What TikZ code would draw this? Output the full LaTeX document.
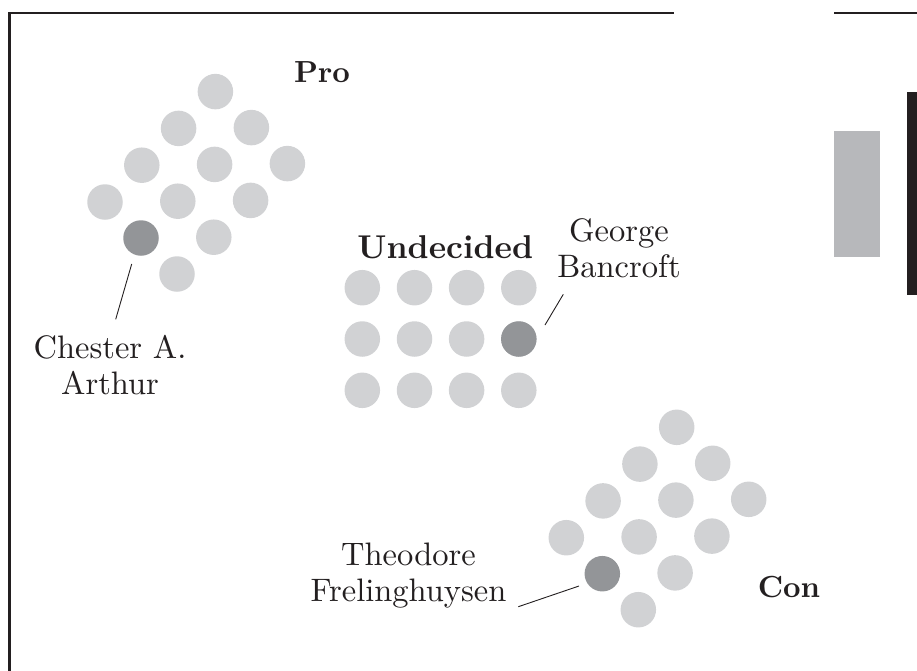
\documentclass[tikz,border=0pt]{standalone}
\usepackage{fontspec}
\setmainfont{lmroman10}[Extension=.otf, UprightFont=*-regular, BoldFont=*-bold, ItalicFont=*-italic, BoldItalicFont=*-bolditalic]
\definecolor{ink}{HTML}{231F20}
\definecolor{lightdot}{HTML}{D1D2D4}
\definecolor{darkdot}{HTML}{939598}
\definecolor{graybar}{HTML}{B7B8BB}
\begin{document}
\begin{tikzpicture}[x=1pt,y=-1pt,
  dot/.style={circle, fill=lightdot, draw=none, minimum size=35.5pt, inner sep=0pt},
  keydot/.style={dot, fill=darkdot},
  lbl/.style={font=\fontsize{32.5}{36}\selectfont, align=center, text=ink, inner sep=0pt, anchor=base},
  grp/.style={font=\fontsize{30.5}{36}\selectfont\bfseries, text=ink, inner sep=0pt, anchor=base},
  leader/.style={draw=ink, line width=0.9pt},
  frameline/.style={draw=ink, line width=2.6pt}]
\useasboundingbox (0,0) rectangle (917,670);

% frame
\draw[frameline] (9.5,672) -- (9.5,13) -- (674,13);
\draw[frameline] (834,13) -- (918,13);
\fill[graybar] (834,131) rectangle (880,257);
\fill[ink] (907,92) rectangle (918,295);

% Pro group
\foreach \i/\j in {0/0,1/0,2/0,3/0,1/1,2/1,3/1,0/2,1/2,2/2,3/2}
  \node[dot] (p\i\j) at ({105+36.8*\i+36*\j},{202-36.8*\i+36*\j}) {};
\node[keydot] (p01) at ({105+36},{202+36}) {};

% Undecided group
\foreach \c/\cx in {0/362.3,1/414.5,2/466.6,3/518.8}
  \foreach \r/\ry in {0/287.7,1/339,2/390.3}
    \node[dot] (u\c\r) at (\cx,\ry) {};
\node[keydot] (u31) at (518.8,339) {};

% Con group
\foreach \i/\j in {0/0,1/0,2/0,3/0,1/1,2/1,3/1,0/2,1/2,2/2,3/2}
  \node[dot] (c\i\j) at ({566.3+36.8*\i+36*\j},{537.7-36.8*\i+36*\j}) {};
\node[keydot] (c01) at ({566.3+36},{537.7+36}) {};

% group titles
\node[grp] (pro) at (322,82.3) {Pro};
\node[grp, font=\fontsize{33}{36}\selectfont\bfseries] (und) at (445.3,258.3) {Undecided};
\node[grp] (con) at (789,597.3) {Con};

% person labels (base anchor = baseline of last line)
\node[lbl] (chester) at (110,394) {Chester A.\\Arthur};
\node[lbl] (george) at (619,277) {George\\Bancroft};
\node[lbl] (theo) at (408.5,601) {Theodore\\Frelinghuysen};

% leaders
\coordinate (chA) at (131.7,264);
\coordinate (chB) at (115.7,319.3);
\coordinate (geA) at (563.3,294.3);
\coordinate (geB) at (545,325);
\coordinate (thA) at (579,586);
\coordinate (thB) at (518.3,606.7);
\draw[leader] (chA) -- (chB);
\draw[leader] (geA) -- (geB);
\draw[leader] (thA) -- (thB);
\end{tikzpicture}
\end{document}
